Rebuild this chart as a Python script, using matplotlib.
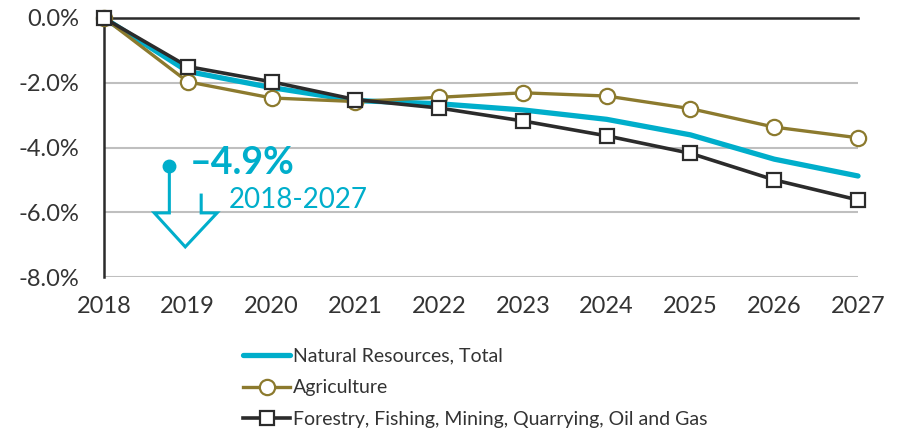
import matplotlib
matplotlib.use("Agg")
import matplotlib.pyplot as plt
from matplotlib.lines import Line2D
from matplotlib.ticker import FuncFormatter

plt.rcParams['font.family'] = ['Lato', 'DejaVu Sans']

years = [2018, 2019, 2020, 2021, 2022, 2023, 2024, 2025, 2026, 2027]
total = [0.0, -1.65, -2.15, -2.55, -2.65, -2.84, -3.13, -3.61, -4.36, -4.88]
agriculture = [0.0, -1.97, -2.47, -2.58, -2.45, -2.31, -2.41, -2.80, -3.37, -3.70]
forestry = [0.0, -1.50, -1.97, -2.52, -2.78, -3.18, -3.64, -4.18, -5.00, -5.62]

labels = ['Natural Resources, Total', 'Agriculture',
          'Forestry, Fishing, Mining, Quarrying, Oil and Gas']

cyan = '#00AECB'
olive = '#8C7A2E'
dark = '#2B2B2B'
text_col = '#333333'

fig = plt.figure(figsize=(9.05, 4.37), dpi=100)
ax = fig.add_axes([104 / 905, 1 - 277 / 437, (858 - 104) / 905, (277 - 18) / 437])

ax.plot(years, total, color=cyan, lw=3.8, solid_capstyle='round', zorder=3)
ax.plot(years, agriculture, color=olive, lw=2.4, marker='o', ms=11,
        mfc='white', mec=olive, mew=1.6, zorder=4)
ax.plot(years, forestry, color=dark, lw=2.6, marker='s', ms=10.5,
        mfc='white', mec=dark, mew=1.6, zorder=5)

ax.set_xlim(2018, 2027)
ax.set_ylim(-8, 0)
ax.set_yticks([0, -2, -4, -6, -8])
ax.yaxis.set_major_formatter(FuncFormatter(lambda v, p: f'{v:.1f}%'))
ax.set_xticks(years)
ax.grid(axis='y', color='#BFBFBF', lw=1.5)
ax.set_axisbelow(True)
for s in ['right', 'bottom']:
    ax.spines[s].set_visible(False)
ax.spines['left'].set_color(dark)
ax.spines['left'].set_linewidth(1.8)
ax.spines['top'].set_color(dark)
ax.spines['top'].set_linewidth(1.8)
ax.spines['top'].set_zorder(2)
ax.tick_params(length=0, colors=text_col)
ax.tick_params(axis='x', labelsize=17, pad=14)
ax.tick_params(axis='y', labelsize=17, pad=18)
for ln in ax.lines:
    ln.set_clip_on(False)

# annotation: dot, stem and open arrow
ax.plot([2018.78], [-4.56], 'o', color=cyan, ms=9, clip_on=False, zorder=6)
arrow_x = [2018.78, 2018.78, 2018.60, 2018.97, 2019.35, 2019.16, 2019.16]
arrow_y = [-4.56, -6.02, -6.02, -7.07, -6.02, -6.02, -5.47]
ax.plot(arrow_x, arrow_y, color=cyan, lw=2.2, solid_joinstyle='miter', zorder=6)
ax.text(2019.02, -4.48, '\u20134.9%', color=cyan, fontsize=27, fontweight='bold',
        va='center', ha='left')
ax.text(2019.49, -5.62, '2018-2027', color=cyan, fontsize=20, va='center', ha='left')

handles = [
    Line2D([], [], color=cyan, lw=3.8, solid_capstyle='round'),
    Line2D([], [], color=olive, lw=2.4, marker='o', ms=11, mfc='white', mec=olive, mew=1.6),
    Line2D([], [], color=dark, lw=2.6, marker='s', ms=10.5, mfc='white', mec=dark, mew=1.6),
]
leg = fig.legend(handles, labels, loc='upper left', bbox_to_anchor=(235 / 905, 1 - 340 / 437),
                 frameon=False, fontsize=14, handlelength=2.45, handletextpad=0.15,
                 labelspacing=0.75, borderaxespad=0)
for t in leg.get_texts():
    t.set_color(text_col)

fig.savefig('out.png', dpi=100)
